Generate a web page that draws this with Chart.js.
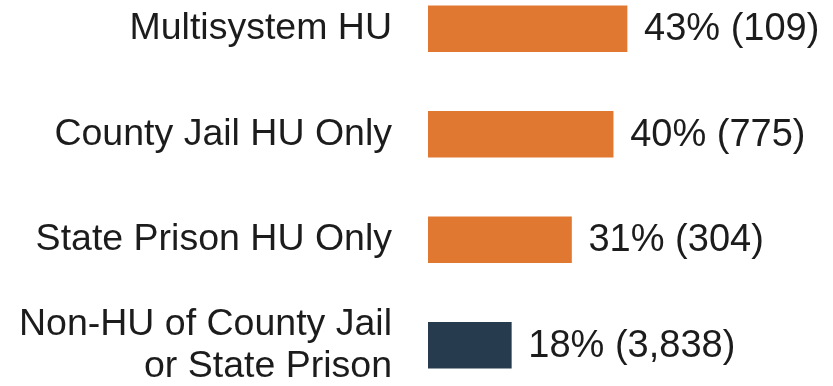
<!DOCTYPE html>
<html>
<head>
<meta charset="utf-8">
<script src="https://cdn.jsdelivr.net/npm/chart.js@4/dist/chart.umd.min.js"></script>
<style>
  html, body { margin: 0; padding: 0; background: #fff; overflow: hidden; }
  #wrap { position: absolute; left: 0; top: -24px; width: 833px; height: 422px; }
</style>
</head>
<body>
<div id="wrap"><canvas id="chart"></canvas></div>
<script>
// groups, share in percent and group size
const groups = [
    'Multisystem HU',
    'County Jail HU Only',
    'State Prison HU Only',
    ['Non-HU of County Jail', 'or State Prison']
];
const shares = [43, 40, 31, 18];
const counts = [109, 775, 304, 3838];
const barColors = ['#e07832', '#e07832', '#e07832', '#263b4d'];

// writes "43% (109)" after the end of each bar
const valueLabels = {
    id: 'valueLabels',
    afterDatasetsDraw(chart) {
        const c = chart.ctx;
        const meta = chart.getDatasetMeta(0);
        c.save();
        c.font = '38px "Liberation Sans", Arial, sans-serif';
        c.fillStyle = '#1c1c1c';
        c.textAlign = 'left';
        c.textBaseline = 'middle';
        meta.data.forEach((bar, i) => {
            const txt = shares[i] + '% (' + counts[i].toLocaleString('en-US') + ')';
            c.fillText(txt, bar.x + 17, bar.y + 1);
        });
        c.restore();
    }
};

new Chart(document.getElementById('chart'), {
    type: 'bar',
    data: {
        labels: groups,
        datasets: [{
            data: shares,
            backgroundColor: barColors,
            borderWidth: 0,
            barThickness: 46
        }]
    },
    options: {
        indexAxis: 'y',
        responsive: true,
        maintainAspectRatio: false,
        animation: false,
        layout: { padding: 0 },
        plugins: {
            legend: { display: false },
            tooltip: { enabled: false }
        },
        scales: {
            x: {
                display: false,
                min: 0,
                max: 87.5
            },
            y: {
                grid: { display: false, drawTicks: false },
                border: { display: false },
                afterFit: (scale) => {
                    // fixed label column, and no extra room for the end labels
                    scale.width = 428;
                    scale.paddingTop = 0;
                    scale.paddingBottom = 0;
                },
                ticks: {
                    padding: 36,
                    color: '#1c1c1c',
                    font: { family: '"Liberation Sans", Arial, sans-serif', size: 37.5, lineHeight: 1.12 }
                }
            }
        }
    },
    plugins: [valueLabels]
});
</script>
</body>
</html>
